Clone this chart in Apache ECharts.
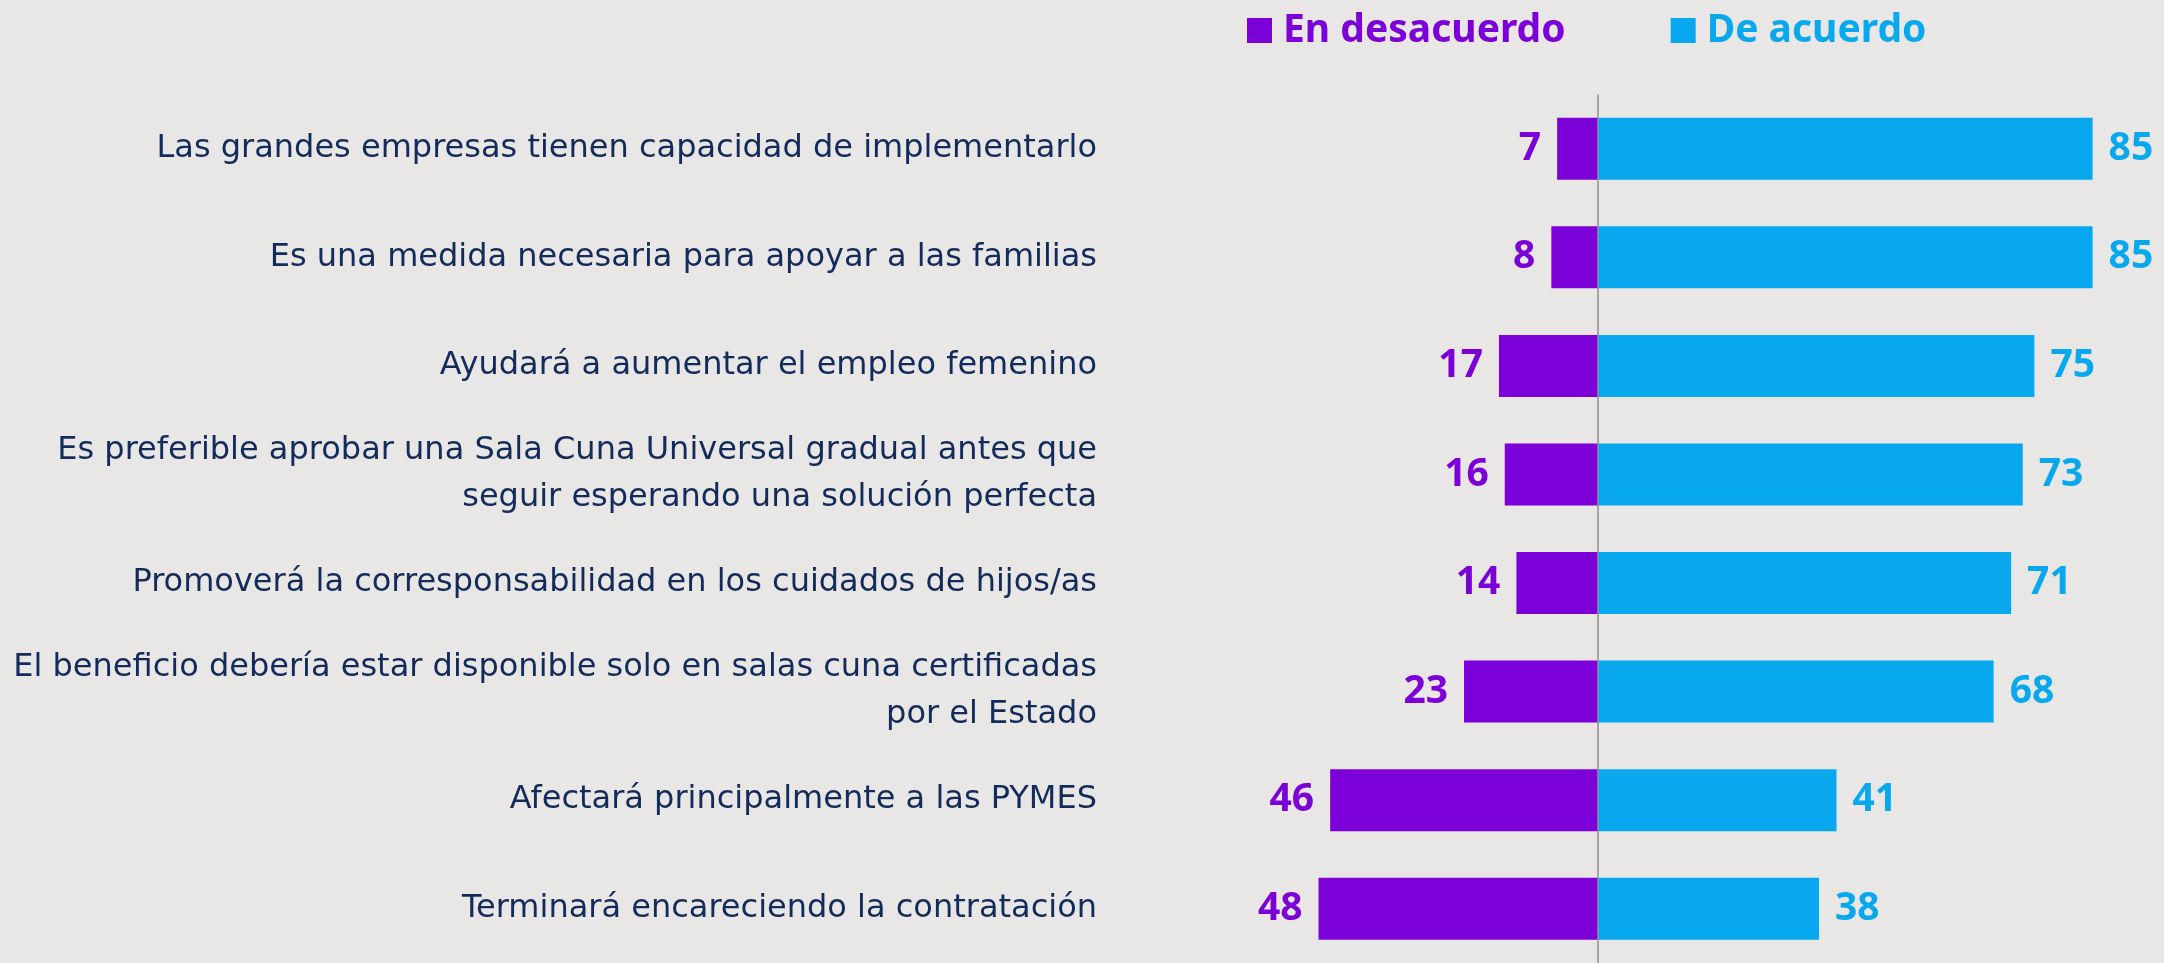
<!DOCTYPE html>
<html>
<head>
<meta charset="utf-8">
<script src="https://cdn.jsdelivr.net/npm/echarts@6/dist/echarts.min.js"></script>
<style>
  html, body { margin: 0; padding: 0; background: #e8e7e5; }
  #chart { width: 2164px; height: 963px; }
</style>
</head>
<body>
<div id="chart"></div>
<script>
    var categories = [
        'Las grandes empresas tienen capacidad de implementarlo',
        'Es una medida necesaria para apoyar a las familias',
        'Ayudará a aumentar el empleo femenino',
        'Es preferible aprobar una Sala Cuna Universal gradual antes que\nseguir esperando una solución perfecta',
        'Promoverá la corresponsabilidad en los cuidados de hijos/as',
        'El beneficio debería estar disponible solo en salas cuna certificadas\npor el Estado',
        'Afectará principalmente a las PYMES',
        'Terminará encareciendo la contratación'
    ];
    var desacuerdo = [7, 8, 17, 16, 14, 23, 46, 48];
    var acuerdo = [85, 85, 75, 73, 71, 68, 41, 38];

    var purple = '#7c00d8';
    var blue = '#08a8ee';

    var myChart = echarts.init(document.getElementById('chart'));
    myChart.setOption({
        backgroundColor: '#e8e7e5',
        animation: false,
        legend: {
            left: 1242,
            top: 6,
            icon: 'rect',
            itemWidth: 25,
            itemHeight: 25,
            itemGap: 105,
            textStyle: {
                fontFamily: 'Noto Sans',
                fontSize: 39,
                fontWeight: 'bold',
                padding: [0, 0, 0, 6]
            },
            data: [
                { name: 'En desacuerdo', textStyle: { color: purple } },
                { name: 'De acuerdo', textStyle: { color: blue } }
            ]
        },
        grid: {
            left: 1109,
            top: 94.5,
            width: 1012.7,
            height: 873
        },
        xAxis: {
            type: 'value',
            min: -84,
            max: 90,
            show: false
        },
        yAxis: {
            type: 'category',
            inverse: true,
            data: categories,
            axisLine: { show: false, onZero: false },
            axisTick: { show: false },
            axisLabel: {
                margin: 12,
                align: 'right',
                fontFamily: 'DejaVu Sans',
                fontSize: 32,
                lineHeight: 47,
                color: '#132b5b'
            }
        },
        series: [
            {
                name: 'En desacuerdo',
                type: 'bar',
                stack: 'total',
                barWidth: 62,
                itemStyle: { color: purple },
                label: {
                    show: true,
                    position: 'left',
                    distance: 16,
                    fontFamily: 'Noto Sans',
                    fontSize: 39,
                    fontWeight: 'bold',
                    color: purple,
                    formatter: function (p) { return Math.abs(p.value); }
                },
                data: desacuerdo.map(function (v) { return -v; })
            },
            {
                name: 'De acuerdo',
                type: 'bar',
                stack: 'total',
                barWidth: 62,
                itemStyle: { color: blue },
                label: {
                    show: true,
                    position: 'right',
                    distance: 16,
                    fontFamily: 'Noto Sans',
                    fontSize: 39,
                    fontWeight: 'bold',
                    color: blue
                },
                markLine: {
                    silent: true,
                    symbol: 'none',
                    label: { show: false },
                    lineStyle: { color: '#8f8f8f', width: 1.5, type: 'solid' },
                    data: [{ xAxis: 0 }]
                },
                data: acuerdo
            }
        ]
    });
</script>
</body>
</html>
